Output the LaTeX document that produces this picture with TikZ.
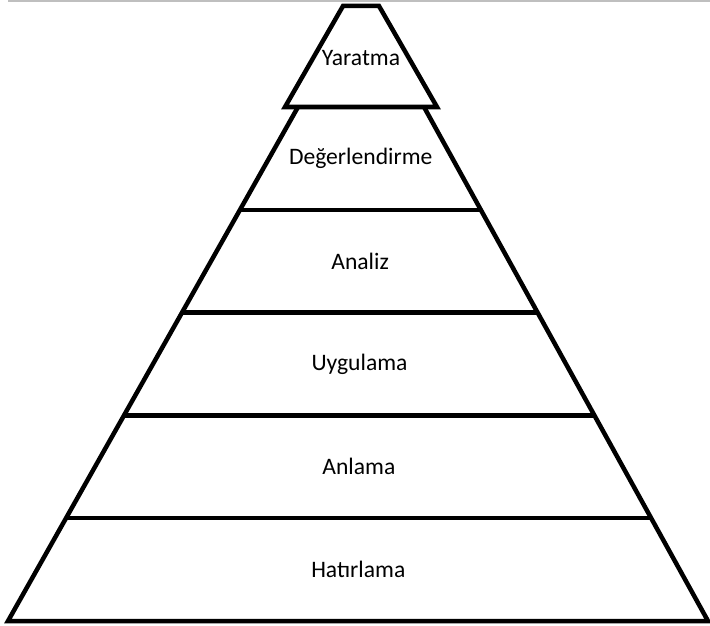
\documentclass[tikz,border=0pt]{standalone}
\usepackage{fontspec}
\setmainfont{Carlito}
\usetikzlibrary{calc}

\tikzset{
  level/.style={draw=black, line width=4.5pt, line join=miter},
  lbl/.style={font=\fontsize{23.6}{28}\selectfont, inner sep=0pt}
}

\begin{document}
\begin{tikzpicture}[x=1pt, y=-1pt]
                \useasboundingbox (0,0) rectangle (710,626);
                % thin rule at the top
                \draw[gray!50, line width=1.5pt] (8,1) -- (710,1);

                % Top piece
                \coordinate (ptl) at (343,6);
                \coordinate (ptr) at (379,6);
                \coordinate (pbr) at (437,107);
                \coordinate (pbl) at (285,107);
                \draw[level] (ptl) -- (ptr) -- (pbr) -- (pbl) -- cycle;

                % Lower body
                \coordinate (tl) at (298,107);
                \coordinate (tr) at (424,107);
                \coordinate (br) at (708,621);
                \coordinate (bl) at (8,621);
                \draw[level] (tl) -- (bl) -- (br) -- (tr);

                % Dividers
                \foreach \t in {0.2,0.4,0.6,0.8}
                    \draw[level] ($(tl)!\t!(bl)$) -- ($(tr)!\t!(br)$);

                % Labels
                \node[lbl] (yaratma) at (361,58) {Yaratma};
                \node[lbl] (degerlendirme) at ($($(tl)!0.1!(bl)$)!0.5!($(tr)!0.1!(br)$)$) {Değerlendirme};
                \node[lbl] (analiz) at ($($(tl)!0.3!(bl)$)!0.5!($(tr)!0.3!(br)$)$) {Analiz};
                \node[lbl] (uygulama) at ($($(tl)!0.5!(bl)$)!0.5!($(tr)!0.5!(br)$)$) {Uygulama};
                \node[lbl] (anlama) at ($($(tl)!0.7!(bl)$)!0.5!($(tr)!0.7!(br)$)$) {Anlama};
                \node[lbl] (hatirlama) at ($($(tl)!0.9!(bl)$)!0.5!($(tr)!0.9!(br)$)$) {Hatırlama};
\end{tikzpicture}
\end{document}
